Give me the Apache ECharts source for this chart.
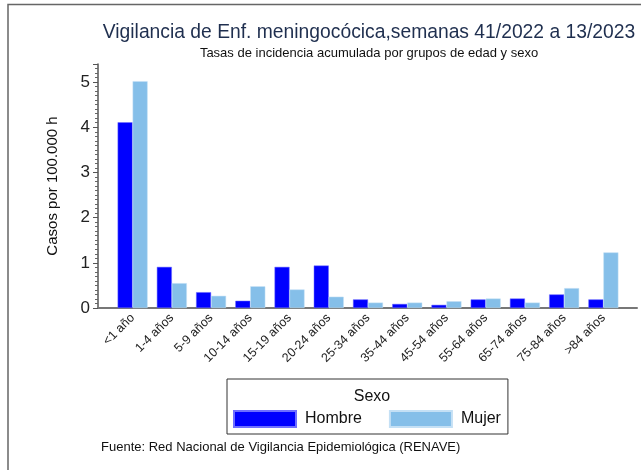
<!DOCTYPE html>
<html>
<head>
<meta charset="utf-8">
<script src="https://cdn.jsdelivr.net/npm/echarts@6/dist/echarts.min.js"></script>
<style>
  html, body { margin: 0; padding: 0; background: #fff; }
  #chart { width: 641px; height: 470px; }
</style>
</head>
<body>
<div id="chart"></div>
<script>
// grupos de edad
const categories = ['<1 año', '1-4 años', '5-9 años', '10-14 años', '15-19 años', '20-24 años',
  '25-34 años', '35-44 años', '45-54 años', '55-64 años', '65-74 años', '75-84 años', '>84 años']
// tasas por 100.000 h
const hombre = [4.11, 0.91, 0.35, 0.16, 0.91, 0.94, 0.19, 0.09, 0.07, 0.19, 0.21, 0.30, 0.19]
const mujer = [5.02, 0.55, 0.27, 0.48, 0.41, 0.25, 0.12, 0.12, 0.15, 0.21, 0.12, 0.44, 1.23]
const yTicks = [0, 1, 2, 3, 4, 5]

const font = '"Liberation Sans", Arial, sans-serif'

let chart = echarts.init(document.getElementById('chart'), null, { renderer: 'canvas' })

let option = {
  animation: false,
  textStyle: { fontFamily: font },
  title: [
    {
      text: 'Vigilancia de Enf. meningocócica,semanas 41/2022 a 13/2023',
      subtext: 'Tasas de incidencia acumulada por grupos de edad y sexo',
      left: 364, top: 18, textAlign: 'center', itemGap: 5,
      textStyle: { fontSize: 19.3, fontWeight: 'normal', color: '#1f2f4f', fontFamily: font },
      subtextStyle: { fontSize: 13, color: '#111', fontFamily: font }
    },
    {
      text: 'Sexo',
      left: 367, top: 384, textAlign: 'center',
      textStyle: { fontSize: 16, fontWeight: 'normal', color: '#111', fontFamily: font }
    },
    {
      text: 'Fuente: Red Nacional de Vigilancia Epidemiológica (RENAVE)',
      left: 96, top: 436,
      textStyle: { fontSize: 13, fontWeight: 'normal', color: '#111', fontFamily: font }
    }
  ],
  legend: {
    data: ['Hombre', 'Mujer'],
    left: 227, top: 379,
    itemWidth: 62, itemHeight: 16, itemGap: 27,
    padding: [31, 7, 6, 6],
    borderColor: '#333', borderWidth: 1,
    selectedMode: false,
    icon: 'rect',
    textStyle: { fontSize: 16, color: '#111', fontFamily: font, padding: [0, 0, 0, 4] }
  },
  graphic: [
    {
      type: 'rect', silent: true,
      shape: { x: 8, y: 4.5, width: 800, height: 600 },
      style: { fill: null, stroke: '#666', lineWidth: 1.5 }
    }
  ],
  grid: [
    { left: 113, right: 18, top: 64, bottom: 162 },
    { left: 98, right: 4, top: 64, bottom: 162 }
  ],
  xAxis: [
    {
      type: 'category', gridIndex: 0, data: categories,
      axisLine: { show: false }, axisTick: { show: false },
      axisLabel: { rotate: 45, margin: 8, fontSize: 12.5, color: '#222', interval: 0, fontFamily: font }
    },
    {
      type: 'value', gridIndex: 1, min: 0, max: 1,
      axisLine: { show: true, onZero: false, lineStyle: { color: '#777', width: 2 } },
      axisTick: { show: false }, axisLabel: { show: false }, splitLine: { show: false }
    }
  ],
  yAxis: [
    {
      type: 'value', gridIndex: 0, min: 0, max: 5.4, interval: 1, offset: 15,
      name: 'Casos por 100.000 h', nameLocation: 'middle', nameGap: 38,
      nameTextStyle: { fontSize: 15, color: '#111', fontFamily: font },
      axisLine: { show: true, lineStyle: { color: '#555', width: 1.5 } },
      axisTick: { show: true, length: 5, lineStyle: { color: '#555' } },
      minorTick: { show: true, splitNumber: 10, length: 3, lineStyle: { color: '#666' } },
      axisLabel: {
        fontSize: 17, color: '#222', margin: 8, showMaxLabel: false,
        formatter: v => yTicks.includes(v) ? String(v) : ''
      },
      splitLine: { show: false }
    },
    { type: 'value', gridIndex: 1, show: false }
  ],
  series: [
    {
      name: 'Hombre', type: 'bar', data: hombre, barWidth: 15, barGap: '0%',
      itemStyle: { color: '#0000ff', borderColor: '#6f6fff', borderWidth: 0.5 }
    },
    {
      name: 'Mujer', type: 'bar', data: mujer, barWidth: 15,
      itemStyle: { color: '#85bfe9', borderColor: '#c4e0f5', borderWidth: 0.5 }
    }
  ]
}

chart.setOption(option)
</script>
</body>
</html>
